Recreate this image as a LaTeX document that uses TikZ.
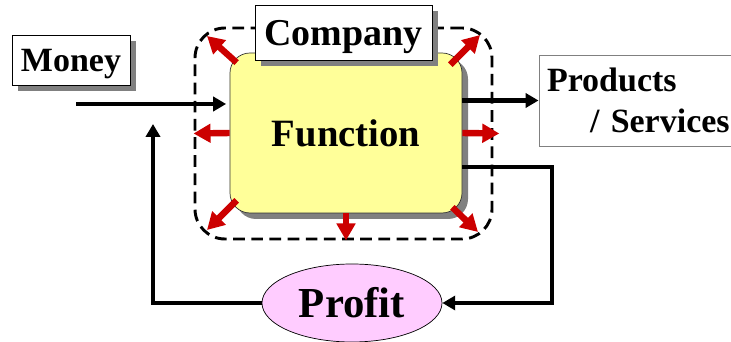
\documentclass[tikz,border=0pt]{standalone}
\usepackage{fontspec}
\setmainfont{Liberation Serif}
\usetikzlibrary{shapes.geometric, arrows.meta, positioning, shadows}
\definecolor{funcyellow}{RGB}{255, 255, 153}
\definecolor{profitpink}{RGB}{255, 204, 255}
\definecolor{outred}{RGB}{204, 0, 0}
\definecolor{shadowgray}{RGB}{128, 128, 128}

\begin{document}
\begin{tikzpicture}[
    x=0.03cm, y=0.03cm,
    grayshadow/.style={drop shadow={shadow xshift=0.18cm, shadow yshift=-0.18cm, fill=shadowgray, opacity=1}},
    labelbox/.style={rectangle, draw=black, fill=white, line width=0.6pt, inner sep=0pt, text depth=0pt, grayshadow},
    func/.style={rectangle, draw=black!80, fill=funcyellow, rounded corners=0.6cm, line width=0.6pt, minimum width=6.96cm, minimum height=4.8cm, font=\fontsize{33}{40}\selectfont\bfseries, grayshadow},
    frame/.style={rectangle, draw=black, dash pattern=on 10pt off 5.5pt, line width=2.5pt, rounded corners=0.9cm, minimum width=8.91cm, minimum height=6.33cm},
    arrow/.style={-{Triangle[length=11pt, width=12pt]}, line width=4pt, color=black},
    outarrow/.style={-{Triangle[length=14.5pt, width=15.5pt]}, line width=5.5pt, color=outred},
]
\useasboundingbox (0,0) rectangle (731,342);

% Company boundary and function
\node[frame] (company area) at (343.5, 208.5) {};
\node[func] (function) at (346, 209) {Function};

% Outputs of the function (red)
\coordinate (tl tip) at (207, 306);
\coordinate (tr tip) at (480, 307);
\coordinate (bl tip) at (207, 112);
\coordinate (br tip) at (478, 110);
\draw[outarrow] ([shift={(7,-10)}]function.north west) -- (tl tip);
\draw[outarrow] ([shift={(-12,-12)}]function.north east) -- (tr tip);
\draw[outarrow] (function.west) -- (company area.west);
\draw[outarrow] (function.east) -- ([xshift=5pt]company area.east);
\draw[outarrow] ([shift={(7,13)}]function.south west) -- (bl tip);
\draw[outarrow] (function.south) -- (function.south |- company area.south);
\draw[outarrow] ([shift={(-10,6)}]function.south east) -- (br tip);

% Labels
\node[labelbox, minimum width=5.31cm, minimum height=1.65cm, font=\fontsize{32.4}{39}\selectfont\bfseries] (company) at (343.5, 309.5) {Company};
\node[labelbox, minimum width=3.54cm, minimum height=1.5cm, font=\fontsize{29}{35}\selectfont\bfseries] (money) at (71, 282) {Money};
\node[rectangle, draw=shadowgray, fill=white, line width=0.8pt, inner xsep=0.24cm, inner ysep=0pt, text width=6.15cm, minimum height=2.73cm, align=left, font=\fontsize{29}{35}\selectfont\bfseries] (products) at (649.5, 241.5) {Products\\\hspace*{1.29cm}/ Services};
\node[ellipse, draw=black, fill=profitpink, line width=0.6pt, inner sep=0pt, minimum width=5.4cm, minimum height=2.34cm, font=\fontsize{36.5}{44}\selectfont\bfseries] (profit) at (352, 39) {Profit};

% Money in, products out
\coordinate (money in) at (76, 238);
\draw[arrow, shorten >=3pt] (money in) -- (money in -| function.west);
\draw[arrow] (function.east |- products.west) -- (products.west);

% Profit loop
\coordinate (feedback) at (552, 175);
\coordinate (reinvest) at (153, 218);
\draw[arrow] (function.east |- feedback) -- (feedback) |- (profit.east);
\draw[arrow] (profit.west) -| (reinvest);

\end{tikzpicture}
\end{document}
